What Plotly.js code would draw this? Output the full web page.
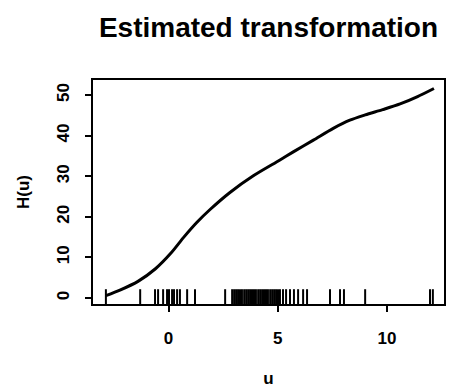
<!DOCTYPE html>
<html>
<head>
<meta charset="utf-8">
<script src="https://cdn.plot.ly/plotly-3.0.1.min.js"></script>
<style>
  html, body { margin: 0; padding: 0; background: #fff; }
  #chart { width: 453px; height: 388px; }
</style>
</head>
<body>
<div id="chart"></div>
<script>
// Estimated transformation H(u) evaluated along u
var curveU = [-2.87, -2.2, -1.4, -0.6, 0.1, 0.7, 1.29, 1.90, 2.81, 3.88, 5.10, 5.71, 6.63, 7.54, 8.30, 9.00, 9.80, 10.60, 11.40, 12.15];
var curveH = [0.56, 2.0, 4.1, 7.2, 11.0, 15.0, 18.6, 21.8, 26.0, 30.1, 34.0, 36.0, 38.9, 41.8, 43.8, 45.1, 46.4, 47.8, 49.6, 51.6];

// Observed u values, shown as a rug along the bottom axis
var rugU = [-2.87, -1.30, -0.62, -0.48, -0.25, -0.07, 0.02, 0.16, 0.25, 0.39, 0.52, 0.85, 1.21,
            2.59, 2.91, 3.00, 3.09, 3.18, 3.27, 3.36, 3.46, 3.55, 3.64, 3.73, 3.82, 3.91, 4.00,
            4.10, 4.19, 4.28, 4.37, 4.46, 4.55, 4.65, 4.74, 4.83, 4.92, 5.01, 5.10, 5.24,
            5.38, 5.56, 5.74, 5.93, 6.16, 6.34, 7.39, 7.85, 8.03, 9.00, 11.97, 12.10];

var xTicks = [0, 5, 10];
var yTicks = [0, 10, 20, 30, 40, 50];

var FONT = 'Liberation Sans, Arial, Helvetica, sans-serif';

var rugShapes = rugU.map(function (u) {
  return {
    type: 'line', xref: 'x', yref: 'paper',
    x0: u, x1: u, y0: 0, y1: 0.066,
    line: { color: '#000', width: 2 }
  };
});

var trace = {
  x: curveU, y: curveH,
  type: 'scatter', mode: 'lines',
  line: { color: '#000', width: 3, shape: 'spline', smoothing: 0.8 },
  hoverinfo: 'skip'
};

var axisCommon = {
  showgrid: false, zeroline: false,
  showline: true, mirror: true, linecolor: '#000', linewidth: 2,
  ticks: 'outside', ticklen: 6, tickwidth: 2, tickcolor: '#000',
  tickfont: { family: FONT, size: 17, color: '#000', weight: 'bold' },
  tickmode: 'array',
  fixedrange: true
};

var layout = {
  width: 453, height: 388,
  margin: { l: 93, r: 9, t: 80, b: 84 },
  paper_bgcolor: '#fff', plot_bgcolor: '#fff',
  showlegend: false,
  title: {
    text: 'Estimated transformation',
    font: { family: FONT, size: 28, color: '#000', weight: 'bold' },
    x: 0.5, xref: 'paper', xanchor: 'center',
    y: 1 - 27 / 388, yref: 'container', yanchor: 'middle'
  },
  xaxis: Object.assign({}, axisCommon, {
    range: [-3.46, 12.61],
    tickvals: xTicks, ticktext: xTicks.map(String),
    ticklabelstandoff: 12,
    title: { text: 'u', font: { family: FONT, size: 17, color: '#000', weight: 'bold' }, standoff: 25 }
  }),
  yaxis: Object.assign({}, axisCommon, {
    range: [-1.48, 53.7],
    tickvals: yTicks, ticktext: yTicks.map(String),
    tickangle: -90,
    ticklabelstandoff: 9,
    title: { text: 'H(u)', font: { family: FONT, size: 17, color: '#000', weight: 'bold' }, standoff: 20 }
  }),
  shapes: rugShapes
};

Plotly.newPlot('chart', [trace], layout, { staticPlot: true, displayModeBar: false });
</script>
</body>
</html>
